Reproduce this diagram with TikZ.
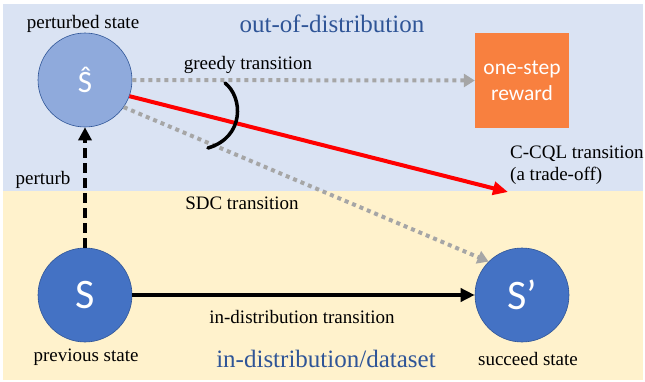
\documentclass[tikz,border=0pt]{standalone}
\usepackage{fontspec}
\setmainfont{Liberation Serif}
\newfontfamily\calib{Carlito}
\usetikzlibrary{arrows.meta}
\definecolor{oodbg}{HTML}{DAE3F3}
\definecolor{idbg}{HTML}{FFF2CC}
\definecolor{lightnode}{HTML}{8FAADC}
\definecolor{darknode}{HTML}{4472C4}
\definecolor{nodeedge}{HTML}{2F5597}
\definecolor{regiontext}{HTML}{2F5597}
\definecolor{orangebox}{HTML}{F8803F}
\definecolor{dotgray}{HTML}{A6A6A6}
\definecolor{ccqlred}{HTML}{FF0000}
\tikzset{
  statenode/.style={circle, draw=nodeedge, line width=0.6pt, minimum size=94pt, inner sep=0pt, text=white},
  lbl/.style={font=\fontsize{19}{22}\selectfont, text=black, inner sep=0pt},
  regionlbl/.style={font=\fontsize{25}{28}\selectfont, text=regiontext, inner sep=0pt},
  grayarrow/.style={draw=dotgray, line width=4pt, dash pattern=on 4pt off 4pt, -{Triangle[length=11pt,width=13pt]}},
}
\begin{document}
\begin{tikzpicture}[x=1pt,y=-1pt]
\useasboundingbox (0,0) rectangle (645,381);
\fill[oodbg] (3,4) rectangle (643,191);
\fill[idbg] (3,191) rectangle (643,380);

\node[statenode, fill=lightnode, font=\calib\fontsize{31}{34}\selectfont] (shat) at (85,80) {Ŝ};
\node[statenode, fill=darknode, font=\calib\fontsize{42}{44}\selectfont] (s) at (85,295) {S};
\node[statenode, fill=darknode, font=\calib\fontsize{42}{44}\selectfont] (sp) at (522,295) {S’};
\node[fill=orangebox, minimum width=94pt, minimum height=95pt, inner sep=0pt, text=white,
      align=center, font=\calib\fontsize{21.5}{26}\selectfont] (rew) at (522,80.5) {one-step\\reward};

\coordinate (ccqlend) at (508,192);

% arrows
\draw[grayarrow] (shat.east) -- (rew.west);
\draw[grayarrow] (shat.-35) -- (sp.north west);
\draw[ccqlred, line width=4pt, -{Triangle[length=15pt,width=13pt]}] (shat.-20) -- (ccqlend);
\draw[line width=4pt, -{Triangle[length=14pt,width=13pt]}] (s.east) -- (sp.west);
\draw[line width=4pt, dash pattern=on 10pt off 5pt, -{Triangle[length=13pt,width=13pt]}] (s.north) -- (shat.south);
\draw[line width=3.5pt, line cap=round] (225,83) .. controls (243,97) and (245,137) .. (208,148);

% labels
\node[lbl] (lps) at (83,24) {perturbed state};
\node[regionlbl] (lood) at (332,24) {out-of-distribution};
\node[lbl] (lgreedy) at (248,65) {greedy transition};
\node[lbl, anchor=west, align=left] (lccql) at (510,165) {C-CQL transition\\(a trade-off)};
\node[lbl] (lpert) at (43,180) {perturb};
\node[lbl] (lsdc) at (242,203) {SDC transition};
\node[lbl] (lprev) at (86,357) {previous state};
\node[lbl] (lidt) at (302,317) {in-distribution transition};
\node[regionlbl] (lid) at (326,359) {in-distribution/dataset};
\node[lbl] (lsucc) at (528,359) {succeed state};
\end{tikzpicture}
\end{document}
